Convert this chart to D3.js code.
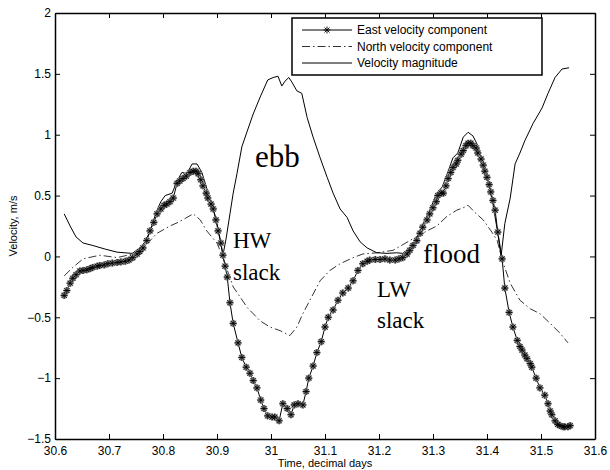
<!DOCTYPE html>
<html>
<head>
<meta charset="utf-8">
<script src="https://cdn.jsdelivr.net/npm/d3@7"></script>
<style>
body { margin: 0; background: #fff; }
text { font-family: "Liberation Sans", Arial, sans-serif; }
.note { font-family: "Liberation Serif", "Times New Roman", serif; }
</style>
</head>
<body>
<svg width="610" height="470"></svg>
<script>
// East velocity component (one sample per marker)
var eastT = [30.617,30.622,30.628,30.633,30.639,30.646,30.652,30.659,30.665,30.670,30.678,30.683,30.691,30.698,30.706,30.715,30.722,30.730,30.737,30.744,
	30.752,30.757,30.763,30.770,30.776,30.783,30.789,30.796,30.802,30.807,30.813,30.819,30.826,30.831,30.837,30.843,30.850,30.856,30.861,30.865,
	30.870,30.874,30.880,30.883,30.889,30.893,30.898,30.902,30.907,30.911,30.915,30.919,30.924,30.930,30.939,30.946,30.954,30.961,30.967,30.974,
	30.981,30.987,30.994,31.002,31.007,31.015,31.022,31.030,31.037,31.043,31.050,31.059,31.065,31.070,31.078,31.085,31.093,31.100,31.106,31.115,
	31.124,31.133,31.143,31.152,31.161,31.170,31.178,31.183,31.193,31.202,31.211,31.220,31.230,31.237,31.244,31.252,31.257,31.263,31.270,31.276,
	31.281,31.289,31.294,31.300,31.306,31.309,31.315,31.319,31.324,31.328,31.333,31.337,31.343,31.346,31.352,31.356,31.361,31.365,31.370,31.374,
	31.380,31.383,31.389,31.393,31.396,31.400,31.404,31.407,31.411,31.415,31.420,31.428,31.433,31.441,31.448,31.456,31.461,31.465,31.470,31.474,
	31.480,31.483,31.491,31.498,31.507,31.513,31.517,31.520,31.526,31.531,31.535,31.541,31.544,31.550,31.554];
var eastV = [-0.32,-0.28,-0.22,-0.18,-0.15,-0.12,-0.115,-0.11,-0.10,-0.09,-0.08,-0.075,-0.07,-0.06,-0.055,-0.05,-0.045,-0.04,-0.03,-0.01,
	0.02,0.04,0.07,0.13,0.21,0.28,0.35,0.39,0.42,0.43,0.45,0.48,0.60,0.62,0.64,0.66,0.69,0.70,0.70,0.68,
	0.63,0.58,0.52,0.48,0.43,0.39,0.30,0.21,0.11,0.01,-0.08,-0.17,-0.38,-0.55,-0.71,-0.83,-0.91,-0.96,-1.02,-1.08,
	-1.18,-1.25,-1.31,-1.32,-1.32,-1.35,-1.21,-1.25,-1.30,-1.22,-1.21,-1.22,-1.11,-1.00,-0.90,-0.79,-0.70,-0.58,-0.50,-0.44,
	-0.36,-0.30,-0.26,-0.20,-0.115,-0.06,-0.04,-0.03,-0.025,-0.025,-0.02,-0.03,-0.03,-0.02,-0.01,0.02,0.05,0.09,0.13,0.19,
	0.24,0.30,0.35,0.40,0.45,0.50,0.52,0.52,0.58,0.64,0.69,0.73,0.76,0.79,0.84,0.87,0.91,0.93,0.93,0.91,
	0.89,0.85,0.80,0.75,0.70,0.65,0.59,0.53,0.46,0.38,0.20,-0.02,-0.26,-0.46,-0.58,-0.69,-0.74,-0.77,-0.81,-0.84,
	-0.88,-0.91,-1.00,-1.08,-1.14,-1.21,-1.27,-1.30,-1.35,-1.38,-1.39,-1.40,-1.40,-1.40,-1.39];

// North velocity component
var northT = [30.617,30.633,30.652,30.683,30.715,30.744,30.763,30.789,30.813,30.828,30.844,30.856,30.869,30.881,30.900,30.911,30.930,30.956,30.980,30.998,
	31.017,31.035,31.048,31.059,31.072,31.091,31.109,31.128,31.152,31.170,31.196,31.226,31.257,31.289,31.307,31.326,31.344,31.356,31.365,31.378,
	31.393,31.409,31.419,31.428,31.443,31.461,31.480,31.498,31.517,31.535,31.550];
var northV = [-0.16,-0.09,-0.02,0.01,-0.01,0.02,0.07,0.19,0.25,0.28,0.32,0.35,0.30,0.21,0.11,-0.01,-0.25,-0.42,-0.53,-0.58,
	-0.61,-0.65,-0.58,-0.47,-0.36,-0.20,-0.115,-0.06,-0.01,0.02,0.03,0.05,0.13,0.21,0.25,0.33,0.38,0.40,0.42,0.36,
	0.30,0.20,0.13,-0.03,-0.22,-0.36,-0.43,-0.47,-0.55,-0.63,-0.71];

// Velocity magnitude
var magT = [30.617,30.628,30.639,30.652,30.670,30.693,30.715,30.743,30.757,30.767,30.776,30.789,30.796,30.804,30.817,30.826,30.835,30.844,30.854,30.863,
	30.872,30.881,30.891,30.900,30.906,30.911,30.917,30.924,30.930,30.937,30.946,30.956,30.967,30.980,30.994,31.004,31.013,31.020,31.026,31.033,
	31.039,31.048,31.057,31.067,31.078,31.091,31.104,31.115,31.128,31.141,31.152,31.165,31.178,31.196,31.215,31.233,31.244,31.257,31.267,31.276,
	31.285,31.294,31.307,31.317,31.328,31.337,31.346,31.356,31.365,31.374,31.383,31.393,31.402,31.411,31.420,31.426,31.433,31.443,31.452,31.461,
	31.470,31.485,31.502,31.513,31.526,31.539,31.552];
var magV = [0.35,0.25,0.16,0.11,0.09,0.06,0.035,0.025,0.07,0.12,0.21,0.38,0.45,0.50,0.52,0.62,0.69,0.68,0.76,0.76,
	0.69,0.56,0.43,0.27,0.14,0.01,0.15,0.35,0.52,0.68,0.90,1.03,1.17,1.31,1.45,1.47,1.48,1.40,1.44,1.47,
	1.43,1.36,1.34,1.14,0.98,0.81,0.65,0.52,0.39,0.32,0.21,0.12,0.07,0.03,0.025,0.03,0.025,0.07,0.13,0.21,
	0.30,0.38,0.52,0.57,0.70,0.81,0.85,0.98,1.02,0.99,0.91,0.76,0.62,0.43,0.19,0.00,0.27,0.48,0.76,0.85,
	0.95,1.09,1.22,1.34,1.47,1.54,1.55];

var xTicks = [30.6, 30.7, 30.8, 30.9, 31, 31.1, 31.2, 31.3, 31.4, 31.5, 31.6];
var yTicks = [-1.5, -1, -0.5, 0, 0.5, 1, 1.5, 2];
var legendLabels = ["East velocity component", "North velocity component", "Velocity magnitude"];

var svg = d3.select("svg");

var x = d3.scaleLinear().domain([30.6, 31.6]).range([55, 595]);
var y = d3.scaleLinear().domain([-1.5, 2]).range([439, 13]);

var fmt = d3.format("");

// axes, MATLAB style: box with inward ticks
svg.append("g")
		.attr("transform", "translate(0,439)")
		.call(d3.axisBottom(x).tickValues(xTicks).tickSizeInner(-5).tickSizeOuter(0).tickPadding(7).tickFormat(fmt));
svg.append("g")
		.attr("transform", "translate(0,13)")
		.call(d3.axisTop(x).tickValues(xTicks).tickSizeInner(-5).tickSizeOuter(0).tickFormat(""));
svg.append("g")
		.attr("transform", "translate(55,0)")
		.call(d3.axisLeft(y).tickValues(yTicks).tickSizeInner(-5).tickSizeOuter(0).tickPadding(4).tickFormat(fmt));
svg.append("g")
		.attr("transform", "translate(595,0)")
		.call(d3.axisRight(y).tickValues(yTicks).tickSizeInner(-5).tickSizeOuter(0).tickFormat(""));

svg.selectAll(".domain").attr("stroke", "#000").attr("stroke-width", 1.5);
svg.selectAll(".tick line").attr("stroke", "#000").attr("stroke-width", 1);
svg.selectAll(".tick text").attr("fill", "#000").attr("font-size", 12)
		.attr("font-family", "Liberation Sans, Arial, sans-serif");

// axis titles
svg.append("text")
		.attr("x", 325)
		.attr("y", 467)
		.attr("text-anchor", "middle")
		.attr("font-size", 11)
		.text("Time, decimal days");
svg.append("text")
		.attr("transform", "translate(17,226) rotate(-90)")
		.attr("text-anchor", "middle")
		.attr("font-size", 11)
		.text("Velocity, m/s");

function toPoints(ts, vs) {
	return ts.map(function(t, i) { return [t, vs[i]]; });
}

var line = d3.line()
		.x(function(d) { return x(d[0]); })
		.y(function(d) { return y(d[1]); });

// magnitude (solid)
svg.append("path")
		.datum(toPoints(magT, magV))
		.attr("fill", "none")
		.attr("stroke", "#000")
		.attr("stroke-width", 1)
		.attr("d", line);

// north (dash-dot)
svg.append("path")
		.datum(toPoints(northT, northV))
		.attr("fill", "none")
		.attr("stroke", "#000")
		.attr("stroke-width", 0.8)
		.attr("stroke-dasharray", "8,3,1.5,3")
		.attr("d", line);

// east (solid with asterisks)
var eastPts = toPoints(eastT, eastV);
svg.append("path")
		.datum(eastPts)
		.attr("fill", "none")
		.attr("stroke", "#000")
		.attr("stroke-width", 1)
		.attr("d", line);

var star = "M-3.5,0L3.5,0M0,-3.5L0,3.5M-2.5,-2.5L2.5,2.5M-2.5,2.5L2.5,-2.5";

svg.append("g").selectAll("path")
	.data(eastPts)
	.enter().append("path")
		.attr("transform", function(d) { return "translate(" + x(d[0]) + "," + y(d[1]) + ")"; })
		.attr("d", star)
		.attr("fill", "none")
		.attr("stroke", "#999")
		.attr("stroke-width", 2.2);
svg.append("g").selectAll("path")
	.data(eastPts)
	.enter().append("path")
		.attr("transform", function(d) { return "translate(" + x(d[0]) + "," + y(d[1]) + ")"; })
		.attr("d", star)
		.attr("fill", "none")
		.attr("stroke", "#000")
		.attr("stroke-width", 0.9);

// annotations
var notes = [
	{ text: "ebb", x: 255, y: 167, size: 31 },
	{ text: "HW", x: 233, y: 248, size: 23 },
	{ text: "slack", x: 233, y: 280, size: 23 },
	{ text: "LW", x: 377, y: 297, size: 23 },
	{ text: "slack", x: 377, y: 328, size: 23 },
	{ text: "flood", x: 423, y: 263, size: 27 }
];
svg.append("g").selectAll("text")
	.data(notes)
	.enter().append("text")
		.attr("class", "note")
		.attr("x", function(d) { return d.x; })
		.attr("y", function(d) { return d.y; })
		.attr("font-size", function(d) { return d.size; })
		.text(function(d) { return d.text; });

// legend
var lg = svg.append("g");
lg.append("rect")
		.attr("x", 292).attr("y", 18)
		.attr("width", 250).attr("height", 57)
		.attr("fill", "#fff")
		.attr("stroke", "#000")
		.attr("stroke-width", 1.5);
var dashes = [null, "8,3,1.5,3", null];
legendLabels.forEach(function(lab, i) {
	var ly = 30 + i * 16.5;
	lg.append("line")
			.attr("x1", 302).attr("x2", 352)
			.attr("y1", ly).attr("y2", ly)
			.attr("stroke", "#000")
			.attr("stroke-width", i == 1 ? 0.8 : 1)
			.attr("stroke-dasharray", dashes[i]);
	if (i == 0) {
		lg.append("path")
				.attr("transform", "translate(327," + ly + ")")
				.attr("d", star)
				.attr("fill", "none")
				.attr("stroke", "#000")
				.attr("stroke-width", 0.9);
	}
	lg.append("text")
			.attr("x", 357)
			.attr("y", ly)
			.attr("dy", "0.35em")
			.attr("font-size", 12)
			.text(lab);
});
</script>
</body>
</html>
